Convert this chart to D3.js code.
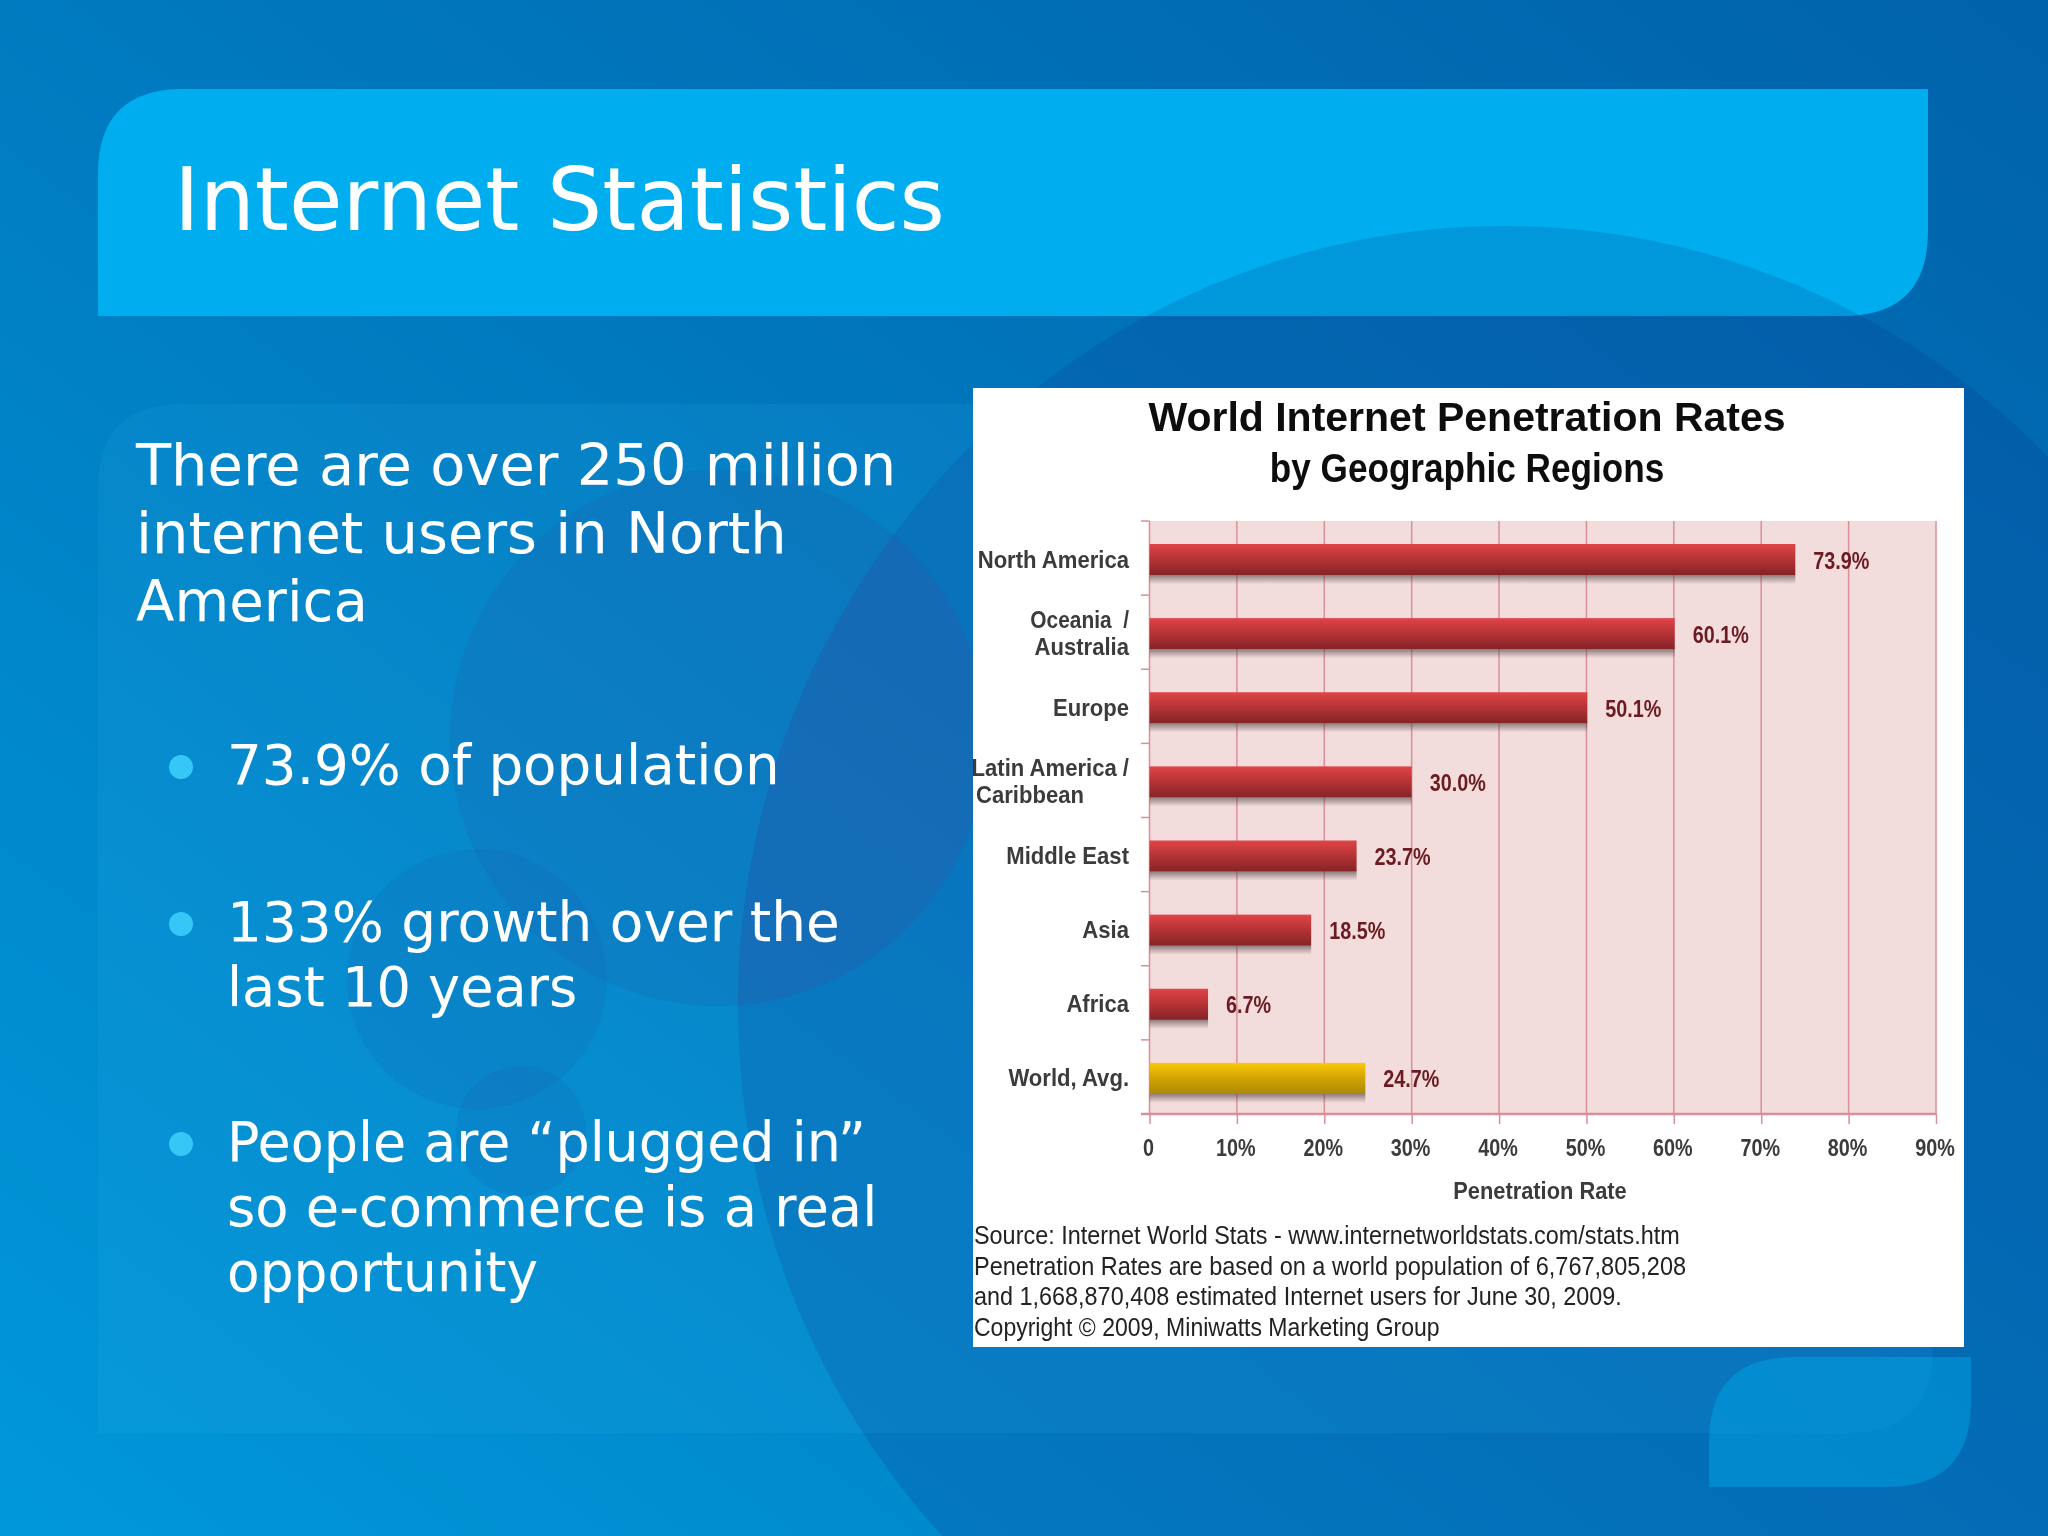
<!DOCTYPE html>
<html>
<head>
<meta charset="utf-8">
<script src="https://cdnjs.cloudflare.com/ajax/libs/d3/7.8.5/d3.min.js"></script>
<style>
  html, body { margin: 0; padding: 0; background: #0075bb; }
  svg { display: block; }
  .slide { font-family: "DejaVu Sans", sans-serif; fill: #fff; }
  .narrow { font-family: "Liberation Sans", sans-serif; font-weight: bold; white-space: pre; }
  .axis path { display: none; }
</style>
</head>
<body>
<svg id="slide" width="2048" height="1536"></svg>
<script>
// chart data
var regions = ["North America", "Oceania  /\nAustralia", "Europe", "Latin America /\nCaribbean", "Middle East", "Asia", "Africa", "World, Avg."];
var rates = [73.9, 60.1, 50.1, 30.0, 23.7, 18.5, 6.7, 24.7];
var xTicks = [0, 10, 20, 30, 40, 50, 60, 70, 80, 90];

// slide text
var slideTitle = "Internet Statistics";
var introLines = ["There are over 250 million", "internet users in North", "America"];
var bullets = [["73.9% of population"], ["133% growth over the", "last 10 years"], ["People are \u201cplugged in\u201d", "so e-commerce is a real", "opportunity"]];
var chartTitle = ["World Internet Penetration Rates", "by Geographic Regions"];
var sourceLines = [
  "Source: Internet World Stats - www.internetworldstats.com/stats.htm",
  "Penetration Rates are based on a world population of 6,767,805,208",
  "and 1,668,870,408 estimated Internet users for June 30, 2009.",
  "Copyright \u00a9 2009, Miniwatts Marketing Group"
];

var svg = d3.select("#slide");
var defs = svg.append("defs");

function gradient(id, x1, y1, x2, y2, stops) {
  var g = defs.append("linearGradient").attr("id", id)
    .attr("x1", x1).attr("y1", y1).attr("x2", x2).attr("y2", y2);
  stops.forEach(function(s) {
    g.append("stop").attr("offset", s[0]).attr("stop-color", s[1]).attr("stop-opacity", s.length > 2 ? s[2] : 1);
  });
}
gradient("bg", 0, 1, 1, 0, [[0, "#0098da"], [0.55, "#0078be"], [1, "#0062aa"]]);
gradient("redBar", 0, 0, 0, 1, [[0, "#e04448"], [0.5, "#b43335"], [1, "#842327"]]);
gradient("goldBar", 0, 0, 0, 1, [[0, "#fcc804"], [0.5, "#cfa402"], [1, "#ac8806"]]);
gradient("barShadow", 0, 0, 0, 1, [[0, "#5a4a4a", 0.65], [1, "#5a4a4a", 0]]);

// the chart in the reference is a soft upscaled picture
defs.append("filter").attr("id", "soft").append("feGaussianBlur").attr("stdDeviation", 0.4);

// squeeze a text to a share of its natural width (no condensed font here)
function squeeze(node, f) {
  node.setAttribute("textLength", node.getComputedTextLength() * f);
  node.setAttribute("lengthAdjust", "spacingAndGlyphs");
}

// big background ellipse, it also shows through the title band
function bigEllipse(parent) {
  return parent.append("ellipse").attr("cx", 1504).attr("cy", 1006).attr("rx", 766).attr("ry", 780);
}

// background shapes
svg.append("rect").attr("width", 2048).attr("height", 1536).attr("fill", "url(#bg)");
bigEllipse(svg).attr("fill", "#0a3f98").attr("fill-opacity", 0.25);
var circles = [[718, 738, 268, 0.18], [477, 979, 130, 0.14], [521, 1131, 65, 0.14]];
svg.selectAll("circle.bg").data(circles).enter().append("circle")
  .attr("class", "bg")
  .attr("cx", function(d) { return d[0]; })
  .attr("cy", function(d) { return d[1]; })
  .attr("r", function(d) { return d[2]; })
  .attr("fill", "#1f4a9a")
  .attr("fill-opacity", function(d) { return d[3]; });
// overlap of the big ellipse and the middle circle is more purple
bigEllipse(defs.append("clipPath").attr("id", "bigClip"));
svg.append("circle").attr("cx", 718).attr("cy", 738).attr("r", 268)
  .attr("clip-path", "url(#bigClip)")
  .attr("fill", "#4a4a9a").attr("fill-opacity", 0.12);

// rounded band with top-left and bottom-right corners cut
function leaf(x0, y0, x1, y1, r) {
  return "M" + x0 + "," + y1 + "V" + (y0 + r) + "Q" + x0 + "," + y0 + " " + (x0 + r) + "," + y0 +
    "H" + x1 + "V" + (y1 - r) + "Q" + x1 + "," + y1 + " " + (x1 - r) + "," + y1 + "Z";
}
var bandPath = leaf(98, 89, 1928, 316, 85);
svg.append("path").attr("d", leaf(98, 404, 1933, 1433, 85)).attr("fill", "#2fb4ee").attr("fill-opacity", 0.12);
svg.append("path").attr("d", bandPath).attr("fill", "#00aeef");
defs.append("clipPath").attr("id", "bandClip").append("path").attr("d", bandPath);
bigEllipse(svg).attr("clip-path", "url(#bandClip)")
  .attr("fill", "#005aa5").attr("fill-opacity", 0.27);
svg.append("path").attr("d", leaf(1709, 1357, 1971, 1487, 85)).attr("fill", "#00a8e8").attr("fill-opacity", 0.46);

// slide text
svg.append("text").attr("class", "slide").attr("x", 174).attr("y", 230).attr("font-size", 87).text(slideTitle);
var introSqueeze = [1, 1, 0.978];
svg.selectAll("text.intro").data(introLines).enter().append("text")
  .attr("class", "slide intro").attr("x", 136)
  .attr("y", function(d, i) { return 485 + i * 68; })
  .attr("font-size", 57.5)
  .text(function(d) { return d; })
  .each(function(d, i) { squeeze(this, introSqueeze[i]); });

var bulletY = [784, 941, 1161];
var bulletSqueeze = [[0.995], [0.998, 0.985], [0.98, 0.988, 0.971]];
bullets.forEach(function(lines, b) {
  svg.append("circle").attr("cx", 181).attr("cy", bulletY[b] - 17).attr("r", 12).attr("fill", "#35c8f7");
  lines.forEach(function(line, i) {
    svg.append("text").attr("class", "slide").attr("x", 227)
      .attr("y", bulletY[b] + i * 65).attr("font-size", 55).text(line)
      .each(function() { squeeze(this, bulletSqueeze[b][i]); });
  });
});

// chart box
svg.append("rect").attr("x", 973).attr("y", 388).attr("width", 991).attr("height", 959).attr("fill", "#fff");
var chart = svg.append("g");

var titleSqueeze = [1, 0.857];
chart.selectAll("text.ctitle").data(chartTitle).enter().append("text")
  .attr("class", "narrow ctitle").attr("text-anchor", "middle").attr("x", 1467)
  .attr("y", function(d, i) { return 431 + i * 51; })
  .attr("font-size", 41).attr("fill", "#0c0c0c")
  .attr("filter", "url(#soft)")
  .text(function(d) { return d; })
  .each(function(d, i) { squeeze(this, titleSqueeze[i]); });

var plotTop = 521, plotBottom = 1114;
var x = d3.scaleLinear().domain([0, 90]).range([1149.5, 1936]);
var y = d3.scaleBand().domain(regions).range([plotTop + 1.5, plotBottom + 1.5]).paddingInner(0.58).paddingOuter(0.29);

// plot background and grid
chart.append("rect").attr("x", x(0)).attr("y", plotTop)
  .attr("width", x(90) - x(0)).attr("height", plotBottom - plotTop)
  .attr("fill", "#f3dddc");

var xAxis = chart.append("g").attr("class", "axis")
  .attr("transform", "translate(0," + plotBottom + ")")
  .call(d3.axisBottom(x).tickValues(xTicks).tickSize(10).tickPadding(16)
    .tickFormat(function(d) { return d === 0 ? "0" : d + "%"; }));
xAxis.selectAll("line").attr("stroke", "#d98f98").attr("stroke-width", 1.5);
xAxis.selectAll("text").attr("class", "narrow").attr("font-size", 23).attr("fill", "#3b3b3b")
  .attr("dx", -1.5).attr("filter", "url(#soft)")
  .each(function() { squeeze(this, 0.86); });

chart.append("g").selectAll("line").data(xTicks).enter().append("line")
  .attr("x1", function(d) { return x(d); }).attr("x2", function(d) { return x(d); })
  .attr("y1", plotTop).attr("y2", plotBottom)
  .attr("stroke", "#d98f98").attr("stroke-width", 1.5);

// left ticks sit on the band edges
var edges = d3.range(regions.length + 1).map(function(i) { return plotTop + i * y.step(); });
chart.append("g").selectAll("line").data(edges).enter().append("line")
  .attr("x1", 1141).attr("x2", x(0))
  .attr("y1", function(d) { return d; }).attr("y2", function(d) { return d; })
  .attr("stroke", "#d98f98").attr("stroke-width", 1.5);
chart.append("line").attr("x1", 1141).attr("x2", x(90)).attr("y1", plotBottom).attr("y2", plotBottom)
  .attr("stroke", "#d98f98").attr("stroke-width", 2.5);

// category labels, two line labels are split by hand
var yAxis = chart.append("g").attr("class", "axis")
  .attr("transform", "translate(1150,0)")
  .call(d3.axisLeft(y).tickSize(0).tickPadding(20).tickFormat(""));
yAxis.selectAll("line").remove();
yAxis.selectAll(".tick").each(function(d) {
  var lines = d.split("\n");
  var t = d3.select(this).select("text").attr("class", "narrow").attr("font-size", 24)
    .attr("fill", "#3b3b3b").attr("dy", null).attr("filter", "url(#soft)");
  t.selectAll("tspan").data(lines).enter().append("tspan")
    .attr("x", function(l) { return l === "Caribbean" ? -66 : -21; })
    .attr("y", function(l, i) { return (i - (lines.length - 1) / 2) * 27 + 8; })
    .text(function(l) { return l; })
    .each(function(l) { squeeze(this, l === "Oceania  /" ? 0.87 : 0.92); });
});

// bars
chart.append("g").selectAll("rect").data(regions).enter().append("rect")
  .attr("x", x(0)).attr("y", function(d) { return y(d) + y.bandwidth(); })
  .attr("width", function(d, i) { return x(rates[i]) - x(0); })
  .attr("height", 9)
  .attr("fill", "url(#barShadow)");
chart.append("g").selectAll("rect").data(regions).enter().append("rect")
  .attr("x", x(0)).attr("y", function(d) { return y(d); })
  .attr("width", function(d, i) { return x(rates[i]) - x(0); })
  .attr("height", y.bandwidth())
  .attr("fill", function(d) { return d === "World, Avg." ? "url(#goldBar)" : "url(#redBar)"; });

// value labels
chart.append("g").selectAll("text").data(regions).enter().append("text")
  .attr("class", "narrow")
  .attr("x", function(d, i) { return x(rates[i]) + 18; })
  .attr("y", function(d) { return y(d) + y.bandwidth() / 2 + 9; })
  .attr("font-size", 23).attr("fill", "#6a1a20").attr("filter", "url(#soft)")
  .text(function(d, i) { return rates[i].toFixed(1) + "%"; })
  .each(function() { squeeze(this, 0.86); });

chart.append("text").attr("class", "narrow").attr("text-anchor", "middle")
  .attr("x", 1540).attr("y", 1199).attr("font-size", 24).attr("fill", "#3b3b3b")
  .attr("filter", "url(#soft)")
  .text("Penetration Rate")
  .each(function() { squeeze(this, 0.91); });

var sourceSqueeze = [0.936, 0.94, 0.936, 0.92];
chart.selectAll("text.source").data(sourceLines).enter().append("text")
  .attr("class", "source").attr("x", 974)
  .attr("y", function(d, i) { return 1244 + i * 30.5; })
  .attr("font-family", "'Liberation Sans', sans-serif")
  .attr("font-size", 25).attr("fill", "#222").attr("filter", "url(#soft)")
  .text(function(d) { return d; })
  .each(function(d, i) { squeeze(this, sourceSqueeze[i]); });
</script>
</body>
</html>
